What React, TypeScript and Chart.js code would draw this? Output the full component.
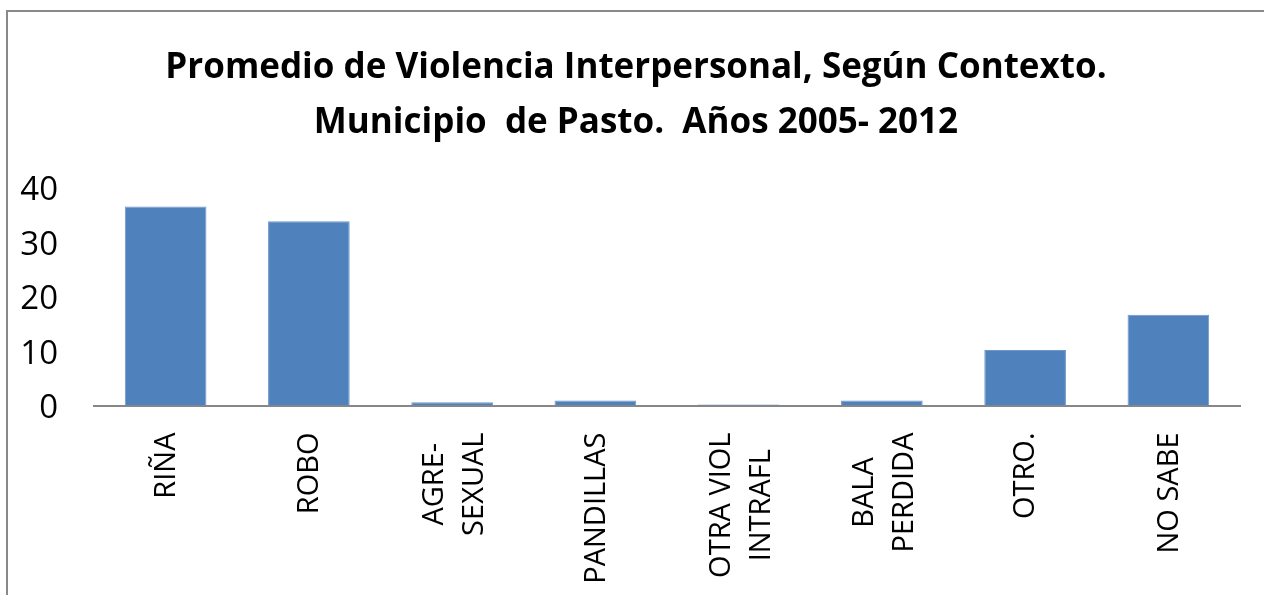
import React, { useEffect, useRef } from "react";
import { Chart, registerables } from "chart.js";

Chart.register(...registerables);

const categories: string[][] = [
  ["RIÑA"],
  ["ROBO"],
  ["AGRE-", "SEXUAL"],
  ["PANDILLAS"],
  ["OTRA VIOL", "INTRAFL"],
  ["BALA", "PERDIDA"],
  ["OTRO."],
  ["NO SABE"],
];
const values: number[] = [36.6, 33.9, 0.6, 0.9, 0.2, 0.9, 10.2, 16.7];
const titleLines: string[] = [
  "Promedio de Violencia Interpersonal, Según Contexto.",
  "Municipio  de Pasto.  Años 2005- 2012",
];
const yMin = 0;
const yMax = 40;
const yStep = 10;

const FONT = "'Open Sans', 'DejaVu Sans', sans-serif";

const titlePlugin = {
  id: "titlePlugin",
  afterDraw(chart: any) {
    const { ctx } = chart;
    ctx.save();
    ctx.font = `bold 35px ${FONT}`;
    ctx.fillStyle = "#000";
    ctx.textAlign = "center";
    ctx.textBaseline = "middle";
    titleLines.forEach((t, i) => {
      ctx.fillText(t, 636, 68 + i * 55);
    });
    ctx.restore();
  },
};

const xLabelPlugin = {
  id: "xLabelPlugin",
  afterDraw(chart: any) {
    const { ctx, scales } = chart;
    const xs = scales.x;
    const bottom = chart.chartArea.bottom;
    ctx.save();
    ctx.font = `29px ${FONT}`;
    ctx.fillStyle = "#000";
    ctx.textAlign = "center";
    ctx.textBaseline = "middle";
    const lineH = 40;
    const topY = bottom + 27;
    categories.forEach((lines, i) => {
      const cx = xs.getPixelForValue(i) + (lines.length > 1 ? 3 : 1);
      const maxW = Math.max(...lines.map((l) => ctx.measureText(l).width));
      ctx.save();
      ctx.translate(cx, topY);
      ctx.rotate(-Math.PI / 2);
      lines.forEach((l, j) => {
        const yy = (j - (lines.length - 1) / 2) * lineH;
        ctx.fillText(l, -maxW / 2, yy);
      });
      ctx.restore();
    });
    ctx.restore();
  },
};

export default function App() {
  const ref = useRef<HTMLCanvasElement>(null);
  useEffect(() => {
    if (!ref.current) return;
    const chart = new Chart(ref.current, {
      type: "bar",
      data: {
        labels: categories.map((c) => c.join(" ")),
        datasets: [
          {
            data: values,
            backgroundColor: "#4F81BD",
            borderColor: "#6E97C8",
            borderWidth: 1,
            categoryPercentage: 1,
            barPercentage: 0.57,
          },
        ],
      },
      options: {
        animation: false,
        responsive: false,
        maintainAspectRatio: false,
        layout: { padding: { left: 0, right: 24, top: 188, bottom: 0 } },
        plugins: {
          legend: { display: false },
          tooltip: { enabled: false },
          title: { display: false },
        },
        scales: {
          x: {
            grid: { display: false, drawTicks: false },
            border: { display: true, color: "#878787", width: 2 },
            ticks: { display: false },
            afterFit: (s: any) => {
              s.height = 189.5;
            },
          },
          y: {
            min: yMin,
            max: yMax,
            grid: { display: false, drawTicks: false },
            border: { display: false },
            ticks: {
              stepSize: yStep,
              padding: 36,
              labelOffset: 3,
              color: "#000",
              font: { family: FONT, size: 33 },
            },
            afterFit: (s: any) => {
              s.width = 94;
            },
          },
        },
      },
      plugins: [titlePlugin, xLabelPlugin],
    });
    return () => chart.destroy();
  }, []);
  return (
    <div style={{ position: "fixed", left: 0, top: 0, width: 1264, height: 595, background: "#fff", overflow: "hidden" }}>
      <div
        style={{
          position: "absolute",
          left: 6,
          top: 10,
          width: 1400,
          height: 800,
          border: "2px solid #898989",
          boxSizing: "border-box",
        }}
      />
      <canvas ref={ref} width={1264} height={595} style={{ position: "absolute", left: 0, top: 0, width: 1264, height: 595 }} />
    </div>
  );
}
